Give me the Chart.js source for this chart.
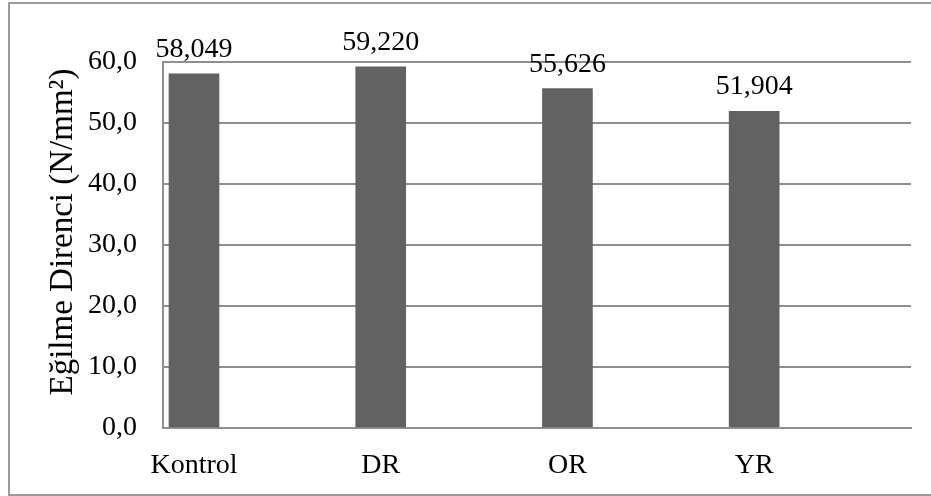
<!DOCTYPE html>
<html>
<head>
<meta charset="utf-8">
<script src="https://cdn.jsdelivr.net/npm/chart.js@4"></script>
<style>
  body { margin: 0; background: #fff; overflow: hidden; }
  #wrap { position: relative; width: 931px; height: 496px; }
  #frame {
    position: absolute; left: 8px; top: 2px; width: 940px; height: 490px;
    border: 2px solid #9a9a9a; pointer-events: none;
  }
  canvas { position: absolute; left: 0; top: 0; }
</style>
</head>
<body>
<div id="wrap">
  <canvas id="chart" width="931" height="496"></canvas>
  <div id="frame"></div>
</div>
<script>
const categories = ['Kontrol', 'DR', 'OR', 'YR'];
const values = [58.049, 59.220, 55.626, 51.904];
const yTicks = [0, 10, 20, 30, 40, 50, 60];
const yTitle = 'Eğilme Direnci (N/mm²)';

const FONT = 'Liberation Serif, Times New Roman, serif';
const gridColor = '#8f8f8f';

function comma(v, digits) {
    return v.toFixed(digits).replace('.', ',');
}

// value labels above the bars + rotated axis title
const barLabels = {
    id: 'barLabels',
    afterDatasetsDraw(chart) {
        const ctx = chart.ctx;
        const meta = chart.getDatasetMeta(0);
        ctx.save();
        ctx.font = '28px ' + FONT;
        ctx.fillStyle = '#000';
        ctx.textAlign = 'center';
        ctx.textBaseline = 'alphabetic';
        meta.data.forEach((bar, i) => {
            ctx.fillText(comma(values[i], 3), bar.x, bar.y - 17);
        });
        ctx.restore();

        ctx.save();
        ctx.font = '33px ' + FONT;
        ctx.fillStyle = '#000';
        ctx.textAlign = 'center';
        ctx.textBaseline = 'alphabetic';
        ctx.translate(72, 232);
        ctx.rotate(-Math.PI / 2);
        ctx.fillText(yTitle, 0, 0);
        ctx.restore();
    }
};

new Chart(document.getElementById('chart'), {
    type: 'bar',
    data: {
        datasets: [{
            data: values.map((v, i) => ({ x: i, y: v })),
            backgroundColor: '#626262',
            barThickness: 50
        }]
    },
    options: {
        responsive: false,
        animation: false,
        layout: { padding: { top: 62, right: 20, left: 0, bottom: 0 } },
        plugins: {
            legend: { display: false },
            tooltip: { enabled: false }
        },
        scales: {
            x: {
                type: 'linear',
                offset: false,
                min: -0.166,
                max: 3.84,
                grid: { display: false, drawTicks: false, offset: false },
                border: { display: true, color: gridColor, width: 2 },
                ticks: {
                    stepSize: 1,
                    includeBounds: false,
                    autoSkip: false,
                    maxRotation: 0,
                    padding: 21,
                    color: '#000',
                    font: { family: FONT, size: 28 },
                    callback: v => categories[v] !== undefined ? categories[v] : ''
                },
                afterFit(scale) { scale.height = 68; }
            },
            y: {
                min: 0,
                max: 60,
                afterBuildTicks(scale) { scale.ticks = yTicks.map(v => ({ value: v })); },
                grid: { color: gridColor, lineWidth: 2, drawTicks: false },
                border: { display: true, color: gridColor, width: 2 },
                ticks: {
                    padding: 26,
                    color: '#000',
                    font: { family: FONT, size: 28 },
                    callback: v => comma(v, 1)
                },
                afterFit(scale) { scale.width = 163; }
            }
        }
    },
    plugins: [barLabels]
});
</script>
</body>
</html>
